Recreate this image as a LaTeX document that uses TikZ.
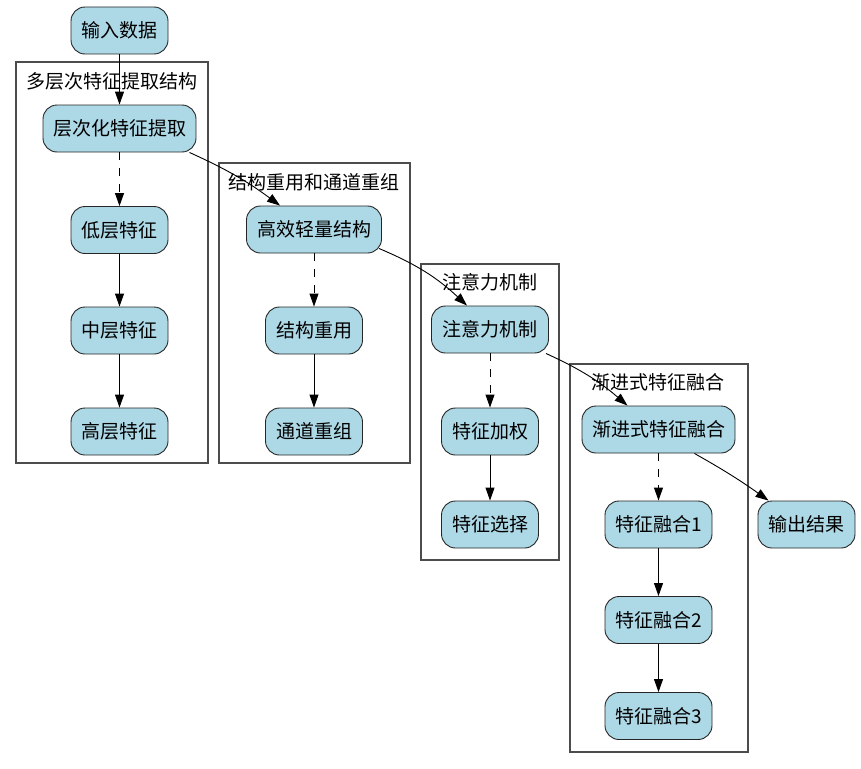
\documentclass[tikz,border=0pt]{standalone}
\usepackage{fontspec}
\setmainfont{Noto Sans CJK SC}
\usetikzlibrary{arrows.meta}
\definecolor{boxblue}{HTML}{ADD8E6}
\tikzset{
  box/.style={draw=black!85,fill=boxblue,rounded corners=14pt,line width=0.9pt,
    minimum width=97pt,minimum height=47pt,inner xsep=10pt,
    font=\fontsize{19}{22}\selectfont},
  cluster/.style={draw=black!70,line width=1.3pt},
  clabel/.style={font=\fontsize{19}{22}\selectfont,inner sep=0pt},
  arr/.style={-{Triangle[length=13pt,width=9pt]},line width=0.9pt},
  dsh/.style={arr,dash pattern=on 8pt off 8pt}
}
\begin{document}
\begin{tikzpicture}[x=1pt,y=1pt]
\useasboundingbox (0,0) rectangle (861,-768);

% clusters
\draw[cluster] (16,-62) rectangle (208,-463);
\draw[cluster] (219,-163) rectangle (410,-463);
\draw[cluster] (421,-264) rectangle (559,-560);
\draw[cluster] (570,-364) rectangle (748,-752);
\node[clabel] (L1) at (112,-81) {多层次特征提取结构};
\node[clabel] (L2) at (314,-182) {结构重用和通道重组};
\node[clabel] (L3) at (490,-282) {注意力机制};
\node[clabel] (L4) at (658,-382) {渐进式特征融合};

\node[box] (In) at (119.5,-30.5) {输入数据};

\node[box] (A0) at (119.5,-128.5) {层次化特征提取};
\node[box] (A1) at (119.5,-230) {低层特征};
\node[box] (A2) at (119.5,-330.5) {中层特征};
\node[box] (A3) at (119.5,-431.5) {高层特征};

\node[box,minimum width=135pt] (B0) at (314,-229.5) {高效轻量结构};
\node[box] (B1) at (314,-330.5) {结构重用};
\node[box] (B2) at (314,-431.5) {通道重组};

\node[box,minimum width=117pt] (C0) at (490,-329.5) {注意力机制};
\node[box] (C1) at (490,-431.5) {特征加权};
\node[box] (C2) at (490,-524.5) {特征选择};

\node[box] (D0) at (658.5,-429.5) {渐进式特征融合};
\node[box,minimum width=107pt] (D1) at (658.5,-524.5) {特征融合1};
\node[box,minimum width=107pt] (D2) at (658.5,-620) {特征融合2};
\node[box,minimum width=107pt] (D3) at (658.5,-716) {特征融合3};

\node[box] (Out) at (806.5,-524.5) {输出结果};

\draw[arr] (In) -- (A0);
\draw[dsh] (A0) -- (A1);
\draw[arr] (A1) -- (A2);
\draw[arr] (A2) -- (A3);

\draw[arr] ([xshift=-7pt]A0.south east) to[bend left=6] ([xshift=-34pt]B0.north);
\draw[dsh] (B0) -- (B1);
\draw[arr] (B1) -- (B2);

\draw[arr] ([xshift=-3pt,yshift=5pt]B0.south east) to[bend left=10] ([xshift=-23pt]C0.north);
\draw[dsh] (C0) -- (C1);
\draw[arr] (C1) -- (C2);

\draw[arr] ([xshift=-3pt]C0.south east) to[bend left=8] ([xshift=-31pt]D0.north);
\draw[dsh] (D0) -- (D1);
\draw[arr] (D1) -- (D2);
\draw[arr] (D2) -- (D3);

\draw[arr] ([xshift=-41pt]D0.south east) to[bend left=3] ([xshift=-38pt]Out.north);

\end{tikzpicture}
\end{document}
